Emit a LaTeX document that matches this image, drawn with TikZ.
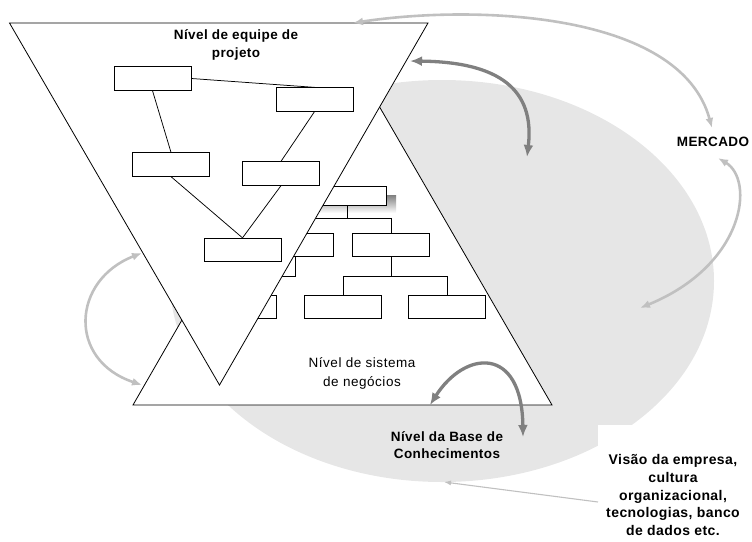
\documentclass[tikz,border=0pt]{standalone}
\usepackage{fontspec}
\setmainfont{Liberation Sans}
\newfontfamily\boldlab[LetterSpace=3]{Liberation Sans}
\newfontfamily\plainlab[LetterSpace=4]{Liberation Sans}
\usetikzlibrary{arrows.meta}
\definecolor{pale}{HTML}{E6E6E6}
\definecolor{lightarrow}{HTML}{C0C0C0}
\definecolor{darkarrow}{HTML}{808080}
\definecolor{shade}{HTML}{C0C0C0}

\begin{document}
\begin{tikzpicture}[x=1pt,y=-1pt,
  box/.style={draw=black,line width=0.8pt,fill=white,minimum width=77pt,minimum height=23.5pt,inner sep=0pt},
  smallbox/.style={box,minimum height=19pt},
  link/.style={draw=black,line width=0.75pt},
  tri/.style={draw=black,line width=0.8pt,fill=white,line join=miter},
  lightlink/.style={draw=lightarrow,line width=2.6pt,{Latex[length=10pt,width=8pt]}-{Latex[length=10pt,width=8pt]}},
  darklink/.style={draw=darkarrow,line width=3.3pt,{Latex[length=12pt,width=10pt]}-{Latex[length=12pt,width=10pt]}},
  thinlink/.style={draw=lightarrow,line width=1.1pt,-{Latex[length=7pt,width=5pt]}},
  boldtext/.style={font=\boldlab\bfseries\fontsize{13.5}{17.5}\selectfont,align=center,inner sep=0pt},
  plaintext/.style={font=\plainlab\fontsize{13.5}{19}\selectfont,align=center,inner sep=0pt},
]
\useasboundingbox (0,0) rectangle (752,541);

% knowledge base: grey ellipse
\fill[pale] (442,281) ellipse [x radius=272, y radius=201];
\fill[white] (598,425) rectangle (752,541);

% business system level: upright triangle
\path[tri] (133,405) -- (342,42) -- (552,405) -- cycle;

% business system org chart
\fill[shade] (319,195) rectangle (396,213);
\node[smallbox] (s1) at (347.5,195.5) {};
\node[box] (s2l) at (295,245) {};
\node[box] (s2r) at (391,245) {};
\node[box] (s3a) at (238,307) {};
\node[box] (s3b) at (343,307) {};
\node[box] (s3c) at (447,307) {};
\draw[link] (s1.south) -- ++(0,14);
\draw[link] (s2l.north) -- ++(0,-14) -| (s2r.north);
\draw[link] (s2r.south) -- ++(0,20);
\draw[link] (s3b.north) -- ++(0,-18) -| (s3c.north);
\draw[link] (s3a.north) -- ++(0,-18) -| (s2l.south);

% project team level: inverted triangle
\path[tri] (9.5,23) -- (428,23) -- (219.5,385) -- cycle;

% project team org chart
\node[box] (pa) at (152.5,78.5) {};
\node[box] (pb) at (314.5,99.5) {};
\node[box] (pc) at (171,164.5) {};
\node[box] (pd) at (281,173.5) {};
\node[box] (pe) at (242.5,250) {};
\draw[link] (pa.east) -- (pb.north);
\draw[link] (pa.south) -- (pc.north);
\draw[link] (pb.south) -- (pd.north);
\draw[link] (pc.south) -- (pe.north);
\draw[link] (pd.south) -- (pe.north);

% labels
\node[boldtext] (team) at (236,45) {Nível de equipe de\\projeto};
\node[boldtext] (market) at (713,142) {MERCADO};
\node[plaintext] (system) at (362,373) {Nível de sistema\\de negócios};
\node[boldtext] (base) at (447,445) {Nível da Base de\\Conhecimentos};
\node[boldtext,font=\boldlab\bfseries\fontsize{14}{17.8}\selectfont] (vision) at (673,495)
  {Visão da empresa,\\cultura\\organizacional,\\tecnologias, banco\\de dados etc.};

% anchor points of the flows
\coordinate (teamtop) at (353,23);
\coordinate (markettop) at (712,128);
\coordinate (marketbottom) at (718,158);
\coordinate (ellipsein) at (640,308);
\coordinate (teamedge) at (410,61);
\coordinate (ellipsetop) at (527,157);
\coordinate (leftup) at (142,253);
\coordinate (leftdown) at (142,385);
\coordinate (baseline) at (430,405);
\coordinate (basein) at (523,437);
\coordinate (visionout) at (598,502);
\coordinate (basebottom) at (444,482);

% flows
\draw[lightlink] (teamtop) .. controls (470,5) and (680,10) .. (markettop);
\draw[lightlink] (ellipsein) .. controls (745,265) and (755,180) .. (marketbottom);
\draw[darklink] (teamedge) .. controls (500,62) and (535,90) .. (ellipsetop);
\draw[lightlink] (leftup) .. controls (72,280) and (67,360) .. (leftdown);
\draw[darklink] (baseline) .. controls (465,350) and (522,345) .. (basein);
\draw[thinlink] (visionout) -- (basebottom);
\end{tikzpicture}
\end{document}
